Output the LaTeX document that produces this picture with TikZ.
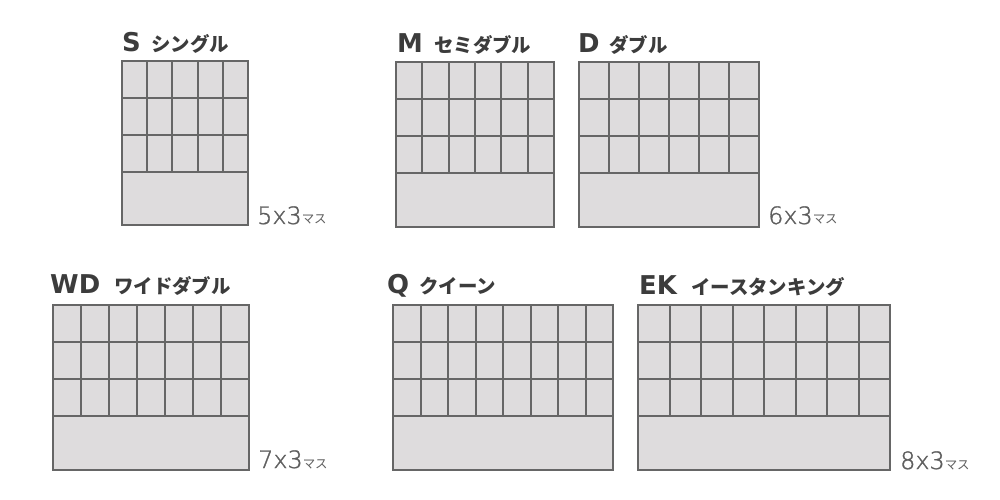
\documentclass[tikz,border=0pt]{standalone}
\usepackage{fontspec}
\setmainfont{Noto Sans CJK JP}
\newfontfamily\codefont{DejaVu Sans}
\newfontfamily\sizefont[FakeBold=1.3]{DejaVu Sans ExtraLight}
\definecolor{trayfill}{HTML}{DEDCDD}
\definecolor{trayline}{HTML}{666666}
\definecolor{labeltext}{HTML}{3C3C3C}
\definecolor{sizetext}{HTML}{5E5E5E}
\tikzset{
  tray/.style={draw=trayline,line width=2bp},
  divider/.style={draw=trayline,line width=1.3bp},
  code/.style={anchor=base west,inner sep=0pt,text=labeltext,font=\fontsize{26}{26}\codefont\bfseries},
  kana/.style={anchor=base west,inner sep=0pt,text=labeltext,font=\fontsize{19.5}{19.5}\selectfont\bfseries},
  size/.style={anchor=base west,inner sep=0pt,text=sizetext,font=\fontsize{24}{24}\sizefont},
}
% tray: left, top, right, bottom, columns
\newcommand{\traygrid}[5]{%
  \fill[trayfill] (#1,#2) rectangle (#3,#4);
  \pgfmathsetmacro\colw{(#3-#1)/#5}
  \pgfmathtruncatemacro\lastc{#5-1}
  \foreach \r in {1,2,3} \draw[divider] (#1,#2+37*\r) -- (#3,#2+37*\r);
  \foreach \k [evaluate=\k as \xk using {round(#1+\colw*\k)}] in {1,...,\lastc}
    \draw[divider] (\xk,#2) -- (\xk,#2+111);
  \draw[tray] (#1,#2) rectangle (#3,#4);
}
\newcommand{\masu}{{\fontsize{12.5}{12.5}\normalfont\mdseries マス}}
\begin{document}
\begin{tikzpicture}[x=1bp,y=-1bp]
  \useasboundingbox (0,0) rectangle (1000,500);
  % upper row
  \traygrid{122}{61}{248}{225}{5} %S
  \traygrid{396}{62}{554}{227}{6} %M
  \traygrid{579}{62}{759}{227}{6} %D
  % lower row
  \traygrid{53}{305}{249}{470}{7} %WD
  \traygrid{393}{305}{613}{470}{8} %Q
  \traygrid{638}{305}{890}{470}{8} %EK
  % names
  \node[code] (sCode) at (122,52) {S};
  \node[kana] (sKana) at (151,52) {シングル};
  \node[code] (mCode) at (397,53) {M};
  \node[kana] (mKana) at (434,53) {セミダブル};
  \node[code] (dCode) at (578,53) {D};
  \node[kana] (dKana) at (609,53) {ダブル};
  \node[code] (wdCode) at (50,294) {WD};
  \node[kana] (wdKana) at (114,294) {ワイドダブル};
  \node[code] (qCode) at (387,294) {Q};
  \node[kana] (qKana) at (419,294) {クイーン};
  \node[code] (ekCode) at (639,295) {EK};
  \node[kana] (ekKana) at (691,295) {イースタンキング};
  % sizes
  \node[size] (sSize) at (257,224) {5x3\masu};
  \node[size] (dSize) at (768,224) {6x3\masu};
  \node[size] (wdSize) at (258,468) {7x3\masu};
  \node[size] (ekSize) at (900,469) {8x3\masu};
\end{tikzpicture}
\end{document}
